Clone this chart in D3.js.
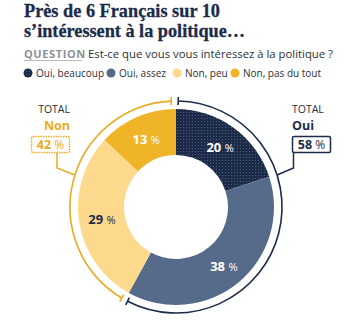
<!DOCTYPE html>
<html>
<head>
<meta charset="utf-8">
<script src="https://cdn.jsdelivr.net/npm/d3@7"></script>
<style>
  body { margin: 0; background: #fff; }
  svg { display: block; }
</style>
</head>
<body>
<div id="chart"></div>
<script>
// Données du sondage
var categories = ["Oui, beaucoup", "Oui, assez", "Non, peu", "Non, pas du tout"];
var valeurs = [20, 38, 29, 13];
var couleurs = ["#1c2b4a", "#566b8a", "#fcd98c", "#f0b429"];
var couleursTexte = ["#fff", "#fff", "#1c2b4a", "#fff"];
var totaux = [{ label: "Oui", valeur: 58 }, { label: "Non", valeur: 42 }];

var navy = "#1c2b4a", jaune = "#eaab23";

var svg = d3.select("#chart").append("svg")
    .attr("width", 345)
    .attr("height", 322);

// motif pointillé pour la part foncée
var defs = svg.append("defs");
var pat = defs.append("pattern")
    .attr("id", "points")
    .attr("width", 3).attr("height", 3)
    .attr("patternUnits", "userSpaceOnUse");
pat.append("rect").attr("width", 3).attr("height", 3).attr("fill", couleurs[0]);
pat.append("rect").attr("x", 1).attr("y", 1).attr("width", 1).attr("height", 1).attr("fill", "#4d5d7c");

// Titre
var titre = ["Près de 6 Français sur 10", "s\u2019intéressent à la politique\u2026"];
svg.selectAll("text.titre")
    .data(titre)
    .enter().append("text")
    .attr("class", "titre")
    .attr("x", 24)
    .attr("y", function(d, i) { return 17 + i * 20; })
    .attr("font-family", "Liberation Serif, serif")
    .attr("font-weight", "bold")
    .attr("font-size", 19)
    .attr("fill", navy)
    .attr("stroke", navy)
    .attr("stroke-width", 0.3)
    .attr("textLength", function(d, i) { return i == 0 ? 196 : 221; })
    .attr("lengthAdjust", "spacingAndGlyphs")
    .text(function(d) { return d; });

// Question
svg.append("text")
    .attr("x", 24).attr("y", 57.5)
    .attr("font-family", "Open Sans, sans-serif")
    .attr("font-weight", "bold")
    .attr("font-size", 11)
    .attr("letter-spacing", 0.6)
    .attr("fill", "#8c9098")
    .text("QUESTION");
svg.append("line")
    .attr("x1", 24).attr("x2", 82).attr("y1", 60.5).attr("y2", 60.5)
    .attr("stroke", "#b8bbc1").attr("stroke-width", 1);
svg.append("text")
    .attr("x", 88).attr("y", 57.5)
    .attr("font-family", "Open Sans, sans-serif")
    .attr("font-size", 11.5)
    .attr("fill", "#2a2f3a")
    .attr("textLength", 245)
    .attr("lengthAdjust", "spacingAndGlyphs")
    .text("Est-ce que vous vous intéressez à la politique ?");

// Légende
var legX = [28, 111, 177, 235];
var leg = svg.selectAll("g.leg")
    .data(categories)
    .enter().append("g")
    .attr("class", "leg")
    .attr("transform", function(d, i) { return "translate(" + legX[i] + ",73)"; });
leg.append("circle")
    .attr("r", 4.5)
    .attr("fill", function(d, i) { return i == 0 ? "url(#points)" : couleurs[i]; });
leg.append("text")
    .attr("x", 8)
    .attr("dy", "0.35em")
    .attr("font-family", "Open Sans, sans-serif")
    .attr("font-size", 10)
    .attr("fill", "#2a2f3a")
    .text(function(d) { return d; });

// Anneau
var cx = 176, cy = 207, rOut = 98, rIn = 52, rArc = 106;
var g = svg.append("g").attr("transform", "translate(" + cx + "," + cy + ")");

var pie = d3.pie().sort(null).value(function(d) { return d; });
var arc = d3.arc().innerRadius(rIn).outerRadius(rOut);
var arcs = pie(valeurs);

g.selectAll("path.part")
    .data(arcs)
    .enter().append("path")
    .attr("class", "part")
    .attr("d", arc)
    .attr("fill", function(d, i) { return i == 0 ? "url(#points)" : couleurs[i]; });

// étiquettes des parts
var arcLabel = d3.arc().innerRadius(75).outerRadius(75);
var lab = g.selectAll("text.pct")
    .data(arcs)
    .enter().append("text")
    .attr("class", "pct")
    .attr("transform", function(d) { return "translate(" + arcLabel.centroid(d) + ")"; })
    .attr("text-anchor", "middle")
    .attr("dy", "0.36em")
    .attr("font-family", "Open Sans, sans-serif")
    .attr("fill", function(d, i) { return couleursTexte[i]; });
lab.append("tspan").attr("font-weight", "bold").attr("font-size", 13).text(function(d) { return d.value + " "; });
lab.append("tspan").attr("font-size", 11).text("%");

// arcs des totaux Oui / Non
var ecart = 2 * Math.PI / 180;
var finOui = arcs[1].endAngle;
var arcsTotal = [
  { start: ecart * 0.6, end: finOui - ecart * 0.8, color: navy },
  { start: finOui + ecart, end: 2 * Math.PI - ecart * 1.3, color: jaune }
];
var arcLigne = d3.arc().innerRadius(rArc).outerRadius(rArc);
arcsTotal.forEach(function(a) {
  g.append("path")
    .attr("d", arcLigne({ startAngle: a.start, endAngle: a.end }))
    .attr("fill", "none")
    .attr("stroke", a.color)
    .attr("stroke-width", 1.6);
  [a.start, a.end].forEach(function(t) {
    var s = Math.sin(t), c = -Math.cos(t);
    g.append("line")
      .attr("x1", (rArc - 4) * s).attr("y1", (rArc - 4) * c)
      .attr("x2", (rArc + 4) * s).attr("y2", (rArc + 4) * c)
      .attr("stroke", a.color).attr("stroke-width", 1.6);
  });
});

// boîtes des totaux
function boite(total, bx, anchor, couleur, couleurLabel, pointille, lx, px) {
  svg.append("text")
    .attr("x", anchor == "end" ? bx + 39 : bx).attr("y", 113)
    .attr("text-anchor", anchor)
    .attr("font-family", "Open Sans, sans-serif")
    .attr("font-size", 10.5)
    .attr("fill", "#2a2f3a")
    .text("TOTAL");
  svg.append("text")
    .attr("x", anchor == "end" ? bx + 39 : bx).attr("y", 130)
    .attr("text-anchor", anchor)
    .attr("font-family", "Open Sans, sans-serif")
    .attr("font-weight", "bold")
    .attr("font-size", 12.5)
    .attr("fill", couleurLabel)
    .text(total.label);
  svg.append("rect")
    .attr("x", bx + 0.5).attr("y", 136.5)
    .attr("width", 38).attr("height", 16)
    .attr("rx", 1.5)
    .attr("fill", "#fff")
    .attr("stroke", couleur)
    .attr("stroke-width", 1.5)
    .attr("stroke-dasharray", pointille ? "1.5,1" : null);
  var t = svg.append("text")
    .attr("x", bx + 19.5).attr("y", 149)
    .attr("text-anchor", "middle")
    .attr("font-family", "Open Sans, sans-serif")
    .attr("fill", couleurLabel);
  t.append("tspan").attr("font-weight", "bold").attr("font-size", 12.5).text(total.valeur + " ");
  t.append("tspan").attr("font-size", 12).text("%");
  // trait de rappel vers l'arc
  var ya = 175, xa = cx + px * Math.sqrt(rArc * rArc - (cy - ya) * (cy - ya));
  svg.append("path")
    .attr("d", "M" + lx + ",153 L" + lx + ",168 L" + xa + "," + ya)
    .attr("fill", "none")
    .attr("stroke", couleur)
    .attr("stroke-width", 1.5);
}
boite(totaux[0], 292, "start", navy, navy, false, 293.5, 1);
boite(totaux[1], 31, "end", jaune, jaune, true, 57, -1);
</script>
</body>
</html>
